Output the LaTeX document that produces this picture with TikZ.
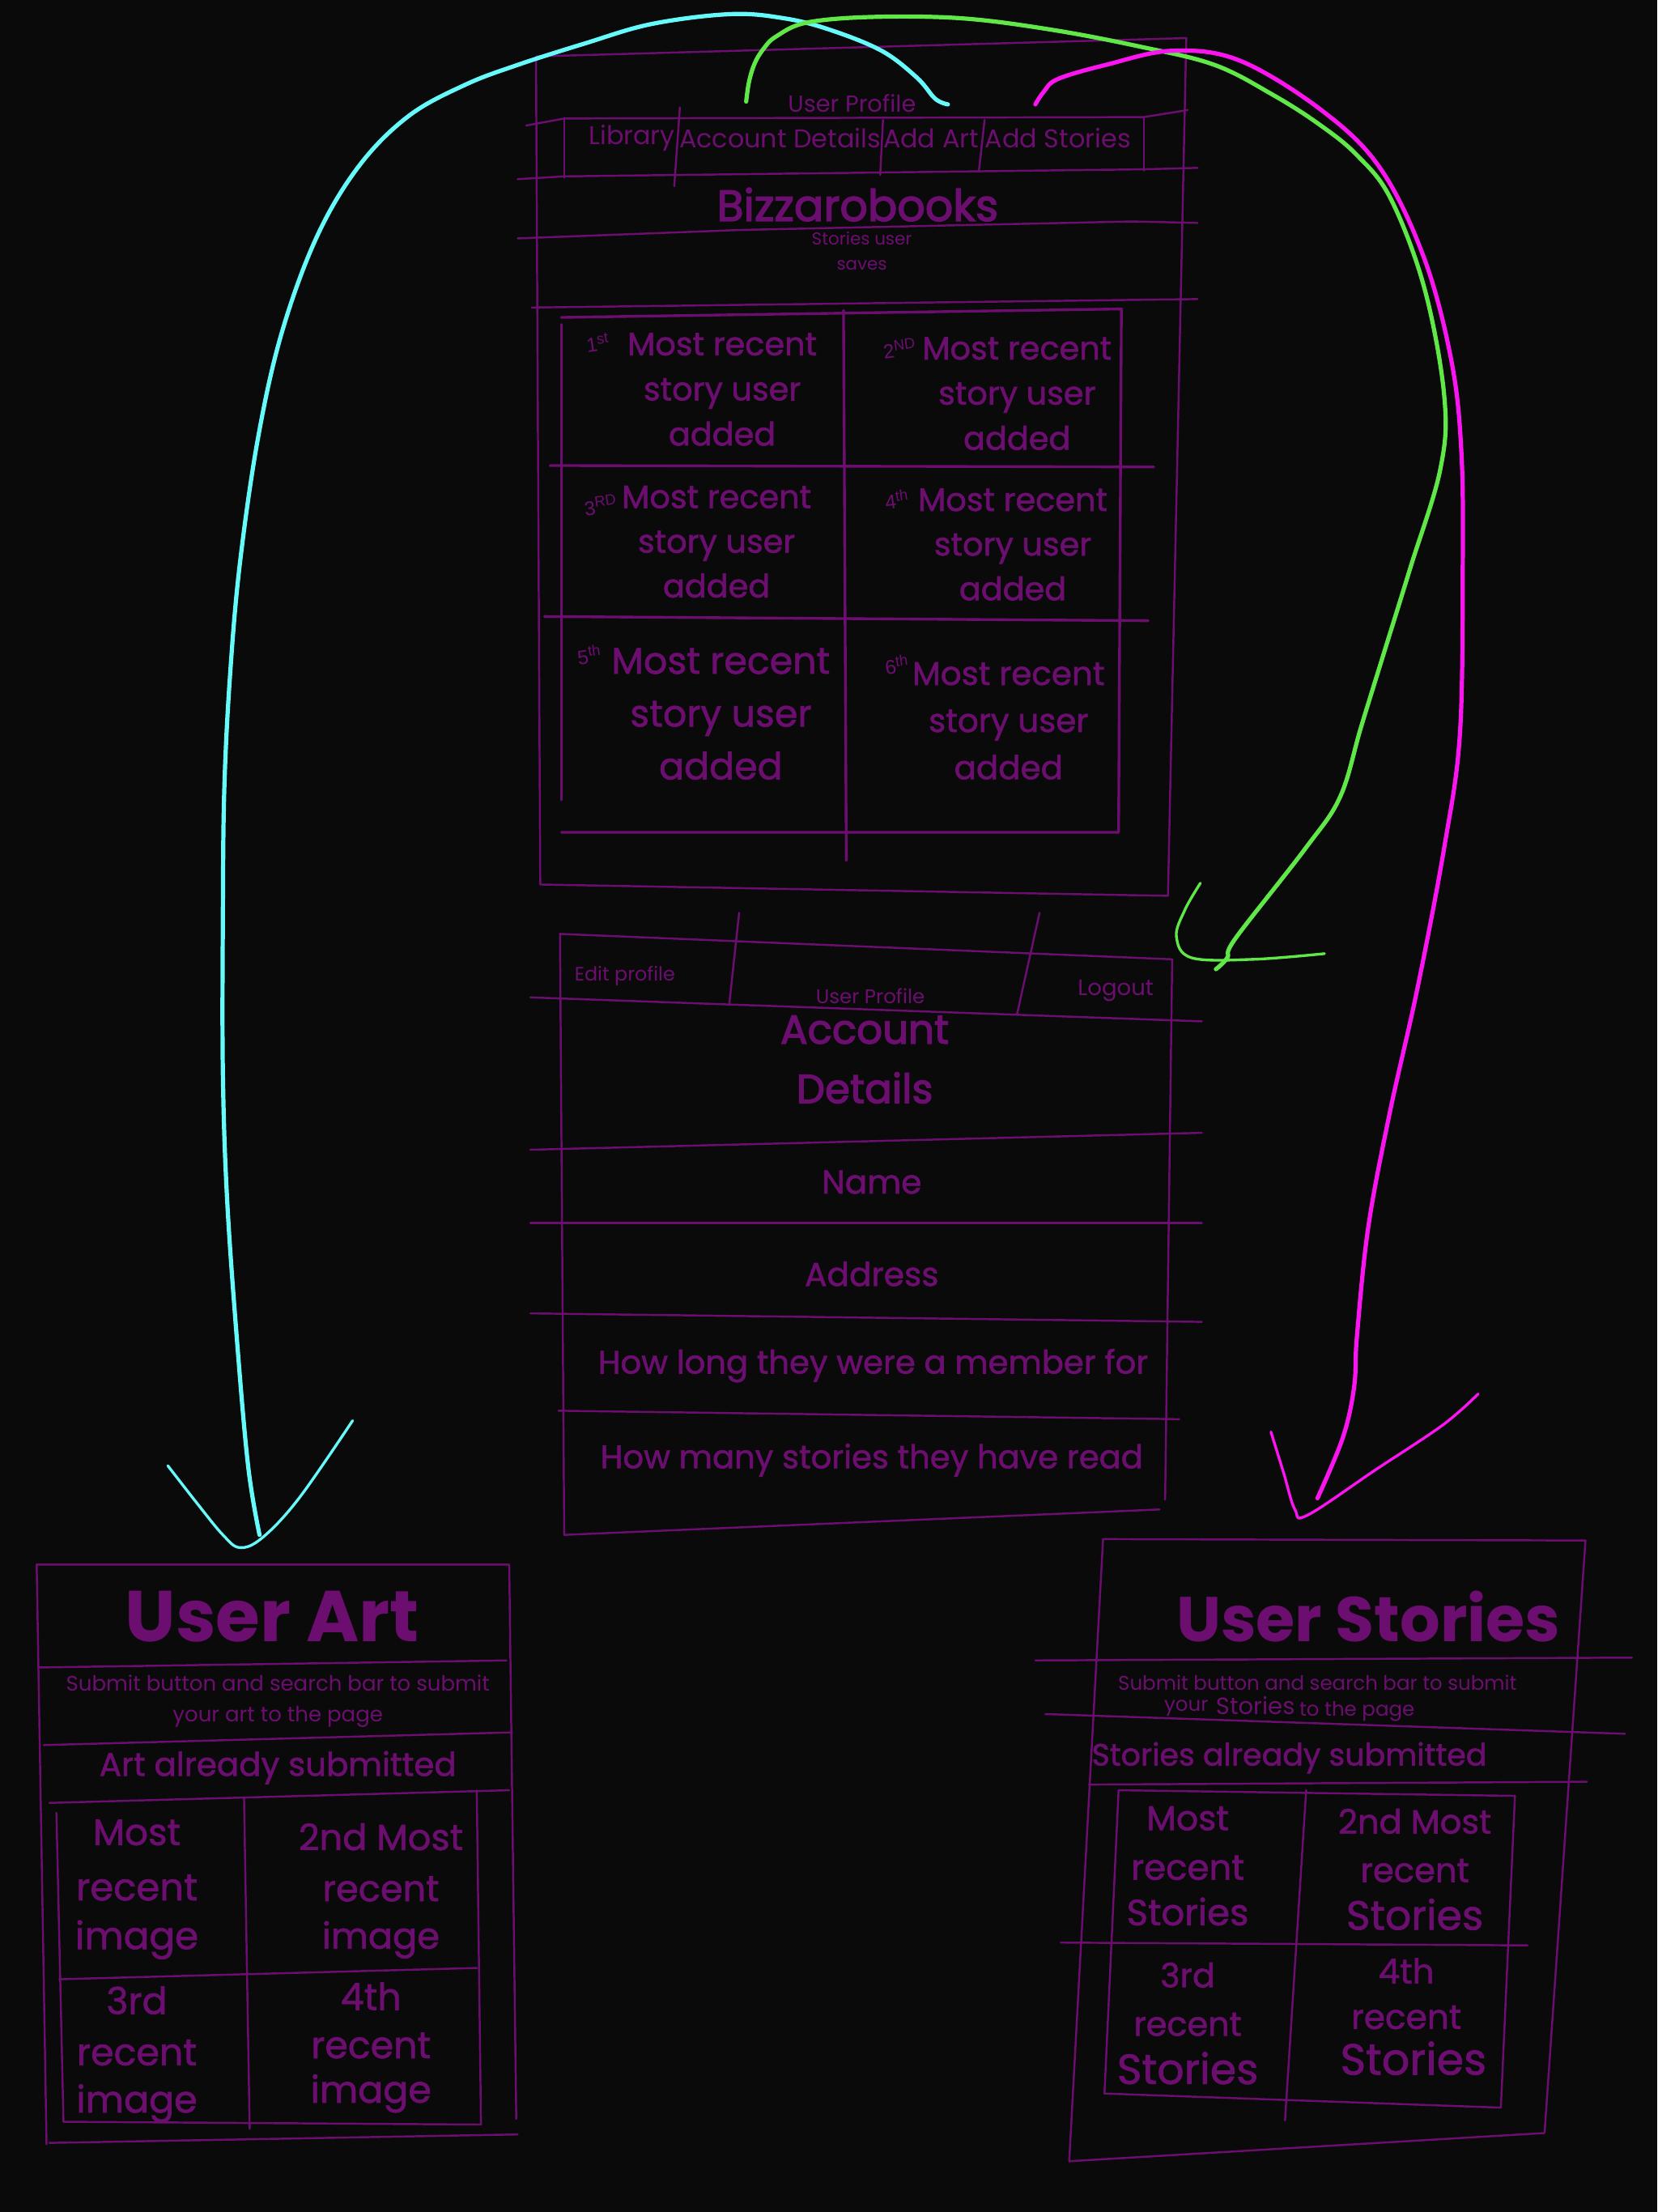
\documentclass[tikz,border=0pt]{standalone}
\usepackage{fontspec}
\setmainfont{Poppins}
\newfontfamily\medfont{Poppins}[FakeBold=1.4]
\newfontfamily\heavyfont{Poppins}[FakeBold=2.6]
\newfontfamily\handfont{Liberation Sans}
\definecolor{bgdark}{RGB}{11,10,11}
\definecolor{plum}{RGB}{108,14,112}
\definecolor{penCyan}{RGB}{102,250,250}
\definecolor{penGreen}{RGB}{96,232,72}
\definecolor{penMagenta}{RGB}{250,20,240}
\newcommand\fsz[2]{\fontsize{#1pt}{#2pt}\selectfont}

\begin{document}
\begin{tikzpicture}[x=0.02cm,y=-0.02cm,
  sketch/.style={draw=plum,line width=0.8pt,line cap=round,line join=round},
  thick sketch/.style={sketch,line width=1.1pt},
  ink text/.style={text=plum,inner sep=0pt,align=center},
  pen/.style={line width=1.7pt,line cap=round,line join=round},
  pen arm/.style={line width=1.1pt,line cap=round,line join=round}]

  \fill[bgdark] (0,0) rectangle (1175,1568);
  \useasboundingbox (0,0) rectangle (1175,1568);

  % user profile page
  \draw[sketch] (380,40) -- (841,27) -- (828,635) -- (383,627) -- cycle;
  \draw[sketch] (373,89) -- (400,84) -- (811,83) -- (842,78);
  \draw[sketch] (367,127) -- (400,125) -- (811,120) -- (849,119);
  \draw[sketch] (400,84) -- (400,126) (811,83) -- (811,121);
  \draw[sketch] (482,76) -- (478,132) (626,85) -- (624,124) (698,85) -- (694,121);
  \draw[sketch] (367,169) -- (525,163) -- (802,157) -- (849,158);
  \draw[sketch] (377,218) -- (849,212);
  \draw[thick sketch] (398,225) -- (795,219) -- (793,590) -- (398,590);
  \draw[thick sketch] (398,230) -- (398,567);
  \draw[thick sketch] (598,220) -- (600,610);
  \draw[thick sketch] (390,330) -- (818,331);
  \draw[thick sketch] (386,437) -- (814,440);

  \node[ink text,font=\fsz{9.4}{11}] (profile title) at (604,73) {User Profile};
  \node[ink text,font=\fsz{10.4}{12}] (nav library) at (448,98) {Library};
  \node[ink text,font=\fsz{10.4}{12}] (nav account) at (553,98) {Account Details};
  \node[ink text,font=\fsz{10.4}{12}] (nav art) at (660,98) {Add Art};
  \node[ink text,font=\fsz{10.4}{12}] (nav stories) at (750,98) {Add Stories};
  \node[ink text,font=\heavyfont\fsz{17.6}{20}] (brand) at (608,145) {Bizzarobooks};
  \node[ink text,font=\fsz{7}{10}] (saved note) at (611,178) {Stories user\\saves};

  \foreach \n/\x/\y/\s/\ls in {1/512/276/13/18.2, 2/721/279/13/18.2, 3/508/384/13/18,
      4/718/386/13/18, 5/511/506/15/21.3, 6/715/511/13.2/19}
    \node[ink text,font=\medfont\fsz{\s}{\ls}] (recent \n) at (\x,\y)
      {Most recent\\story user\\added};
  \foreach \n/\x/\y/\o in {1/424/243/1\textsuperscript{st}, 2/638/247/2\textsuperscript{ND},
      3/426/358/3\textsuperscript{RD}, 4/636/354/4\textsuperscript{th},
      5/418/464/5\textsuperscript{th}, 6/636/471/6\textsuperscript{th}}
    \node[ink text,font=\handfont\fsz{8}{9},rotate=8] (rank \n) at (\x,\y) {\o};

  % account details page
  \draw[sketch] (397,662) -- (831,680) -- (826,1063);
  \draw[sketch] (397,662) -- (400,1088) -- (822,1070);
  \draw[sketch] (376,707) -- (852,724);
  \draw[sketch] (524,647) -- (517,712) (737,647) -- (721,719);
  \draw[sketch] (376,815) -- (852,803);
  \draw[sketch] (376,867) -- (852,867);
  \draw[sketch] (376,931) -- (852,937);
  \draw[sketch] (396,1000) -- (836,1006);

  \node[ink text,font=\fsz{7.8}{9}] (edit) at (443,692) {Edit profile};
  \node[ink text,font=\fsz{8}{9}] (acct profile) at (617,706) {User Profile};
  \node[ink text,font=\fsz{9}{10}] (logout) at (791,702) {Logout};
  \node[ink text,font=\heavyfont\fsz{16.3}{24}] (acct title) at (613,751) {Account\\Details};
  \node[ink text,font=\medfont\fsz{13.3}{15}] (name) at (618,838) {Name};
  \node[ink text,font=\medfont\fsz{13.3}{15}] (address) at (618,903) {Address};
  \node[ink text,font=\medfont\fsz{13.1}{15}] (member) at (619,968) {How long they were a member for};
  \node[ink text,font=\medfont\fsz{13.1}{15}] (reads) at (618,1035) {How many stories they have read};

  % user art page
  \draw[sketch] (26,1109) -- (361,1109) -- (366,1502);
  \draw[sketch] (26,1109) -- (33,1520);
  \draw[sketch] (35,1519) -- (367,1513);
  \draw[sketch] (27,1182) -- (359,1177);
  \draw[sketch] (31,1237) -- (363,1228);
  \draw[sketch] (35,1278) -- (361,1269);
  \draw[sketch] (40,1285) -- (45,1504) -- (341,1506) -- (338,1270);
  \draw[sketch] (173,1274) -- (177,1509);
  \draw[sketch] (42,1403) -- (338,1395);

  \node[ink text,font=\bfseries\fsz{29}{32}] (art title) at (193,1146) {User Art};
  \node[ink text,font=\fsz{8.5}{12.5}] (art submit) at (197,1206)
    {Submit button and search bar to submit\\your art to the page};
  \node[ink text,font=\medfont\fsz{13.2}{15}] (art done) at (197,1253) {Art already submitted};
  \foreach \x/\y/\s/\t [count=\i] in {97/1299/14.8/Most, 97/1338/15.2/recent, 97/1375/15.3/image,
      270/1302/14.6/2nd Most, 270/1339/14.6/recent, 270/1375/14.6/image,
      97/1418/15/3rd, 97/1455/15/recent, 97/1491/15/image,
      263/1415/15/4th, 263/1450/15/recent, 263/1484/15/image}
    \node[ink text,font=\medfont\fsz{\s}{\s}] (art line \i) at (\x,\y) {\t};

  % user stories page
  \draw[sketch] (782,1091) -- (1124,1092) -- (1095,1512) -- (758,1532) -- cycle;
  \draw[sketch] (734,1177) -- (1157,1175);
  \draw[sketch] (741,1215) -- (1152,1229);
  \draw[sketch] (772,1265) -- (1125,1263);
  \draw[sketch] (793,1269) -- (1074,1273) -- (1064,1494) -- (783,1484) -- cycle;
  \draw[sketch] (926,1269) -- (911,1503);
  \draw[sketch] (752,1377) -- (1083,1379);

  \node[ink text,font=\bfseries\fsz{25.5}{28}] (story title) at (970,1146) {User Stories};
  \node[ink text,font=\fsz{8}{9}] (story submit) at (934,1193) {Submit button and search bar to submit};
  \node[ink text,font=\fsz{8}{9}] (story your) at (841,1211) {your};
  \node[ink text,font=\fsz{9.5}{10}] (story word) at (890,1209) {Stories};
  \node[ink text,font=\fsz{8}{9}] (story page) at (962,1213) {to the page};
  \node[ink text,font=\medfont\fsz{12.4}{14}] (story done) at (914,1246) {Stories already submitted};
  \foreach \x/\y/\s/\t [count=\i] in {842/1289/13.9/Most, 842/1324/14.2/recent, 842/1355/14.7/Stories,
      1003/1291/13.6/2nd Most, 1003/1326/13.6/recent, 1003/1357/16.5/Stories,
      842/1400/13.5/3rd, 842/1435/13.5/recent, 842/1466/17/Stories,
      997/1397/13.8/4th, 997/1430/13.8/recent, 1002/1459/17.6/Stories}
    \node[ink text,font=\medfont\fsz{\s}{\s}] (story line \i) at (\x,\y) {\t};

  % pen strokes
  \coordinate (art hook) at (672,74);
  \coordinate (art tip) at (184,1088);
  \coordinate (acct hook) at (529,72);
  \coordinate (acct tip) at (862,687);
  \coordinate (story hook) at (734,74);
  \coordinate (story tip) at (934,1062);

  \draw[pen,penCyan] plot[smooth,tension=0.6] coordinates {(art hook) (663,70) (650,55)
    (625,36) (588,21) (556,13) (518,10) (462,17) (414,31) (367,46) (330,60) (290,82)
    (255,117) (225,167) (200,235) (183,310) (170,400) (163,480) (159,560) (158,650)
    (158,760) (161,850) (168,950) (176,1040) (art tip)};
  \draw[pen arm,penCyan] plot[smooth,tension=0.6] coordinates {(119,1039) (140,1066)
    (158,1088) (170,1097) (186,1090) (212,1062) (250,1007)};

  \draw[pen,penGreen] plot[smooth,tension=0.6] coordinates {(acct hook) (531,58) (535,45)
    (541,35) (550,26) (572,16) (619,12) (682,13) (745,21) (808,33) (861,46) (902,67)
    (935,88) (962,110) (986,141) (1010,205) (1024,282) (1021,333) (1000,402) (982,460)
    (965,515) (950,565) (925,602) (876,665) (870,679) (acct tip)};
  \draw[pen arm,penGreen] plot[smooth,tension=0.6] coordinates {(851,626) (840,645)
    (834,664) (845,679) (889,680) (939,676)};

  \draw[pen,penMagenta] plot[smooth,tension=0.6] coordinates {(story hook) (740,65)
    (750,56) (784,46) (831,36) (879,43) (938,79) (979,120) (1010,184) (1029,256)
    (1036,320) (1037,402) (1035,520) (1024,600) (1005,700) (985,790) (970,870)
    (962,947) (960,983) (952,1019) (story tip)};
  \draw[pen arm,penMagenta] plot[smooth,tension=0.6] coordinates {(901,1015)
    (910,1044) (918,1070) (927,1074) (975,1042) (1023,1010) (1048,988)};
\end{tikzpicture}
\end{document}
